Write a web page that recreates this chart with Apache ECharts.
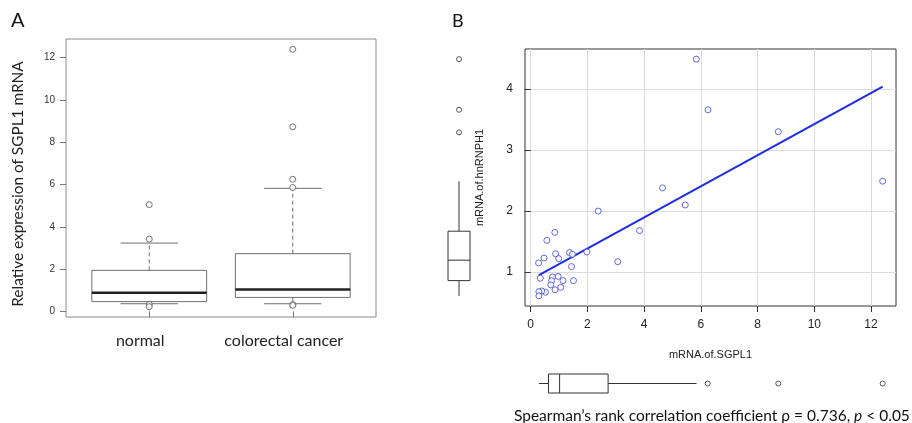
<!DOCTYPE html>
<html><head><meta charset="utf-8">
<script src="https://cdn.jsdelivr.net/npm/echarts@6/dist/echarts.min.js"></script>
<style>html,body{margin:0;padding:0;background:#fff}#c{width:912px;height:423px}</style>
</head><body><div id="c"></div>
<script>
// ---- Panel A data ----
const groups = ['normal', 'colorectal cancer'];
const groupPos = [1, 2];
const boxNormal = [0.36, 0.46, 0.88, 1.94, 3.23];   // min, Q1, median, Q3, max (whiskers)
const boxCancer = [0.36, 0.66, 1.03, 2.73, 5.82];
const outNormal = [5.05, 3.42, 0.33, 0.22];
const outCancer = [12.4, 8.73, 6.25, 5.86, 0.32, 0.28];
const ticksA = [0, 2, 4, 6, 8, 10, 12];

// ---- Panel B data ----
const sgpl1 = [5.84, 6.25, 8.73, 12.41, 4.65, 5.45, 2.38, 3.84, 3.07, 1.98, 0.85, 0.57, 0.88, 0.99, 0.47, 0.28,
  1.37, 1.47, 1.44, 1.51, 1.14, 0.97, 0.77, 0.74, 0.71, 0.34, 0.86, 1.06, 0.52, 0.39, 0.29, 0.29];
const hnrnph1 = [4.49, 3.66, 3.30, 2.49, 2.38, 2.10, 2.00, 1.68, 1.17, 1.33, 1.65, 1.52, 1.30, 1.22, 1.23, 1.15,
  1.32, 1.29, 1.09, 0.86, 0.86, 0.93, 0.92, 0.86, 0.79, 0.90, 0.71, 0.75, 0.67, 0.69, 0.68, 0.61];
const fitX = [0.29, 12.41];
const fitY = [0.95, 4.04];
const boxSgpl1 = [0.29, 0.63, 1.02, 2.73, 5.85];
const outSgpl1 = [6.24, 8.73, 12.41];
const boxHn = [0.61, 0.86, 1.195, 1.67, 2.49];
const outHn = [3.29, 3.66, 4.49];
const ticksBx = [0, 2, 4, 6, 8, 10, 12];
const ticksBy = [1, 2, 3, 4];

const chart = echarts.init(document.getElementById('c'), null, {renderer: 'canvas'});

function boxRenderer(orient, half, capHalf, dash, medW, color, medColor) {
  return function (params, api) {
    const pos = api.value(0);
    const mn = api.value(1), q1 = api.value(2), md = api.value(3), q3 = api.value(4), mx = api.value(5);
    const P = (c, v) => orient === 'v' ? api.coord([c, v]) : api.coord([v, c]);
    const seg = (a, b, w, d, col) => ({type: 'line', shape: {x1: a[0], y1: a[1], x2: b[0], y2: b[1]},
      style: {stroke: col || color, lineWidth: w, lineDash: d || null}});
    const a = P(pos - half, q1), b = P(pos + half, q3);
    const ch = [];
    ch.push(seg(P(pos, q3), P(pos, mx), 1, dash));
    ch.push(seg(P(pos, q1), P(pos, mn), 1, dash));
    if (capHalf > 0) {
      ch.push(seg(P(pos - capHalf, mx), P(pos + capHalf, mx), 1));
      ch.push(seg(P(pos - capHalf, mn), P(pos + capHalf, mn), 1));
    }
    ch.push({type: 'rect', shape: {x: Math.min(a[0], b[0]), y: Math.min(a[1], b[1]),
      width: Math.abs(b[0] - a[0]), height: Math.abs(b[1] - a[1])},
      style: {fill: '#fff', stroke: color, lineWidth: 1}});
    ch.push(seg(P(pos - half, md), P(pos + half, md), medW, null, medColor));
    return {type: 'group', children: ch};
  };
}

const lab = {fontFamily: 'Liberation Sans, Arial, sans-serif'};
const calib = 'Lato, "Open Sans", sans-serif';
const ring = (col, w) => ({color: '#fff', borderColor: col, borderWidth: w});

const option = {
  animation: false,
  backgroundColor: '#fff',
  grid: [
    {left: 66, top: 39, width: 310, height: 278, show: true, borderColor: '#8a8a8a', borderWidth: 1, backgroundColor: 'transparent'},
    {left: 525, top: 49, width: 371, height: 257, show: true, borderColor: '#333', borderWidth: 1, backgroundColor: 'transparent'},
    {left: 448, top: 49, width: 22, height: 257, show: false},
    {left: 525, top: 374, width: 371, height: 19, show: false}
  ],
  xAxis: [
    {gridIndex: 0, type: 'value', min: 0.42, max: 2.58, axisLine: {show: false},
      axisTick: {show: true, length: 6, customValues: groupPos, lineStyle: {color: '#777'}},
      splitLine: {show: false},
      axisLabel: {customValues: groupPos, margin: 16, fontFamily: calib, fontSize: 16, color: '#222',
        formatter: v => '{t|' + groups[groupPos.indexOf(v)] + '}',
        rich: {t: {fontFamily: calib, fontSize: 16, color: '#222', padding: [0, 18, 0, 0]}}}},
    {gridIndex: 1, type: 'value', min: -0.2, max: 12.88, axisLine: {show: false},
      name: 'mRNA.of.SGPL1', nameLocation: 'middle', nameGap: 43,
      nameTextStyle: {fontFamily: lab.fontFamily, fontSize: 11, color: '#222'},
      axisTick: {show: true, length: 6, customValues: ticksBx, lineStyle: {color: '#333'}},
      splitLine: {show: true, lineStyle: {color: '#dcdcdc', width: 1}},
      axisLabel: {customValues: ticksBx, margin: 13, fontFamily: lab.fontFamily, fontSize: 12, color: '#222'}},
    {gridIndex: 2, type: 'value', min: 0, max: 1, show: false},
    {gridIndex: 3, type: 'value', min: -0.2, max: 12.88, show: false}
  ],
  yAxis: [
    {gridIndex: 0, type: 'value', min: -0.267, max: 12.887, axisLine: {show: false},
      axisTick: {show: true, length: 6, customValues: ticksA, lineStyle: {color: '#777'}},
      splitLine: {show: false},
      axisLabel: {customValues: ticksA, margin: 11, fontFamily: lab.fontFamily, fontSize: 10, color: '#333'}},
    {gridIndex: 1, type: 'value', min: 0.444, max: 4.656, axisLine: {show: false},
      name: 'mRNA.of.hnRNPH1', nameLocation: 'middle', nameGap: 40,
      nameTextStyle: {fontFamily: lab.fontFamily, fontSize: 11, color: '#222'},
      axisTick: {show: true, length: 6, customValues: ticksBy, lineStyle: {color: '#333'}},
      splitLine: {show: true, lineStyle: {color: '#dcdcdc', width: 1}},
      axisLabel: {customValues: ticksBy, margin: 12, fontFamily: lab.fontFamily, fontSize: 12, color: '#222'}},
    {gridIndex: 2, type: 'value', min: 0.444, max: 4.656, show: false},
    {gridIndex: 3, type: 'value', min: 0, max: 1, show: false}
  ],
  series: [
    {type: 'custom', xAxisIndex: 0, yAxisIndex: 0, silent: true,
      renderItem: boxRenderer('v', 0.4, 0.2, [4, 3], 2.5, '#6e6e6e', '#222'),
      data: [[groupPos[0]].concat(boxNormal), [groupPos[1]].concat(boxCancer)]},
    {type: 'scatter', xAxisIndex: 0, yAxisIndex: 0, symbol: 'circle', symbolSize: 6, silent: true,
      itemStyle: ring('#555', 1),
      data: outNormal.map(v => [groupPos[0], v]).concat(outCancer.map(v => [groupPos[1], v]))},
    {type: 'line', xAxisIndex: 1, yAxisIndex: 1, symbol: 'none', silent: true,
      lineStyle: {color: '#1c2ee0', width: 2}, data: fitX.map((x, i) => [x, fitY[i]]), z: 3},
    {type: 'scatter', xAxisIndex: 1, yAxisIndex: 1, symbol: 'circle', symbolSize: 6, silent: true,
      itemStyle: ring('#3d46d8', 1),
      data: sgpl1.map((x, i) => [x, hnrnph1[i]]), z: 4},
    {type: 'custom', xAxisIndex: 2, yAxisIndex: 2, silent: true,
      renderItem: boxRenderer('v', 0.5, 0, null, 1, '#333', '#333'),
      data: [[0.5].concat(boxHn)]},
    {type: 'scatter', xAxisIndex: 2, yAxisIndex: 2, symbol: 'circle', symbolSize: 5, silent: true,
      itemStyle: ring('#333', 1),
      data: outHn.map(v => [0.5, v])},
    {type: 'custom', xAxisIndex: 3, yAxisIndex: 3, silent: true,
      renderItem: boxRenderer('h', 0.5, 0, null, 1, '#333', '#333'),
      data: [[0.5].concat(boxSgpl1)]},
    {type: 'scatter', xAxisIndex: 3, yAxisIndex: 3, symbol: 'circle', symbolSize: 5, silent: true,
      itemStyle: ring('#333', 1),
      data: outSgpl1.map(v => [v, 0.5])}
  ],
  graphic: [
    {type: 'text', left: 11, top: 11, style: {text: 'A', font: '20px ' + calib, fill: '#111'}},
    {type: 'text', left: 452, top: 12, style: {text: 'B', font: '18px ' + calib, fill: '#111'}},
    {type: 'text', x: 18, y: 184, rotation: Math.PI / 2,
      style: {text: 'Relative expression of SGPL1 mRNA', font: '15.4px ' + calib, fill: '#222',
        align: 'center', verticalAlign: 'middle'}},
    {type: 'text', x: 514, y: 416,
      style: {text: '{a|Spearman’s rank correlation coefficient ρ = 0.736, }{i|p}{a| < 0.05}',
        verticalAlign: 'middle',
        rich: {a: {font: '15.5px ' + calib, fill: '#111'}, i: {font: 'italic 15.5px ' + calib, fill: '#111'}}}}
  ]
};
chart.setOption(option);
</script></body></html>
